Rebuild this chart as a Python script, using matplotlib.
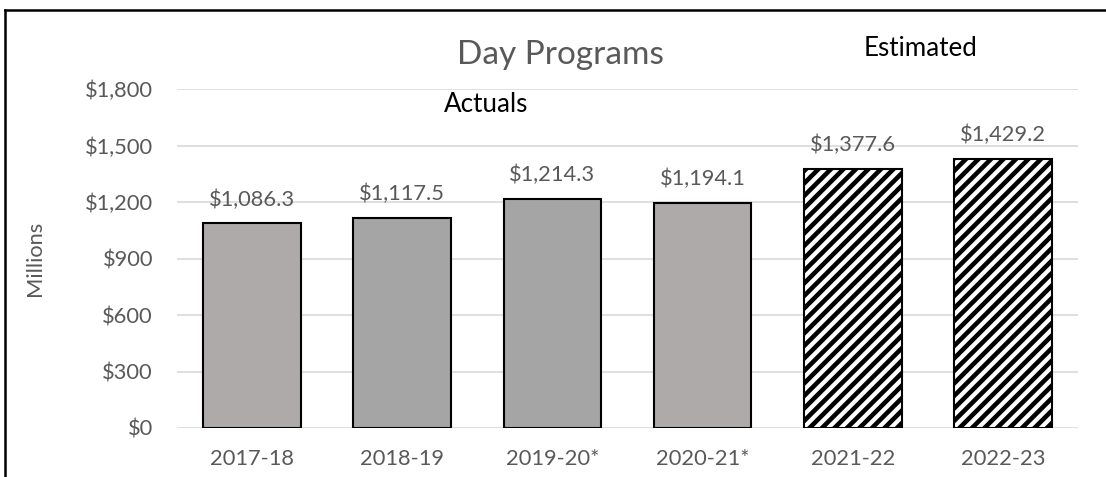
import matplotlib
matplotlib.use("Agg")
import matplotlib.pyplot as plt
from matplotlib.lines import Line2D

categories = ["2017-18", "2018-19", "2019-20*", "2020-21*", "2021-22", "2022-23"]
values = [1086.3, 1117.5, 1214.3, 1194.1, 1377.6, 1429.2]
estimated = [False, False, False, False, True, True]
bar_colors = ["#AEAAAA", "#A5A5A5", "#A5A5A5", "#AEAAAA", "white", "white"]
yticks = [0, 300, 600, 900, 1200, 1500, 1800]

plt.rcParams['font.family'] = ['Lato', 'DejaVu Sans']
plt.rcParams['hatch.linewidth'] = 2.2
plt.rcParams['hatch.color'] = 'black'

DPI = 150
fig = plt.figure(figsize=(1106 / DPI, 477 / DPI), dpi=DPI)
ax = fig.add_axes([177 / 1106, 1 - 428 / 477, 901 / 1106, (428 - 89) / 477])

x = list(range(len(categories)))
for xi, v, est, c in zip(x, values, estimated, bar_colors):
    ax.bar(xi, v, width=0.65, color=c, edgecolor='black', linewidth=1.0,
           hatch='////' if est else None, zorder=3)
    ax.annotate(f"${v:,.1f}", (xi, v), xytext=(0, 11.5), textcoords='offset points',
                ha='center', va='center', fontsize=10.5, color='#595959')

ax.set_xlim(-0.5, len(categories) - 0.5)
ax.set_ylim(0, 1800)
ax.set_yticks(yticks)
ax.set_yticklabels([f"${t:,}" for t in yticks])
ax.set_xticks(x)
ax.set_xticklabels(categories)
ax.tick_params(axis='both', length=0, labelsize=10.5, labelcolor='#595959')
ax.tick_params(axis='y', pad=11.5)
ax.tick_params(axis='x', pad=10)
ax.grid(axis='y', color='#D9D9D9', linewidth=0.8, zorder=0)
for s in ax.spines.values():
    s.set_visible(False)

fig.text(35 / 1106, 1 - 258 / 477, "Millions", rotation=90, ha='center', va='center',
         fontsize=10.5, color='#595959')
fig.text(560 / 1106, 1 - 55 / 477, "Day Programs", ha='center', va='center',
         fontsize=16, color='#595959')
fig.text(486 / 1106, 1 - 104 / 477, "Actuals", ha='center', va='center',
         fontsize=12.5, color='black')
fig.text(921 / 1106, 1 - 48 / 477, "Estimated", ha='center', va='center',
         fontsize=12.5, color='black')

fig.add_artist(Line2D([5 / 1106, 5 / 1106], [0, 1 - 10 / 477], color='black', linewidth=1.2,
                      transform=fig.transFigure))
fig.add_artist(Line2D([5 / 1106, 1], [1 - 10 / 477, 1 - 10 / 477], color='black', linewidth=1.2,
                      transform=fig.transFigure))

fig.savefig("out.png", dpi=DPI)
